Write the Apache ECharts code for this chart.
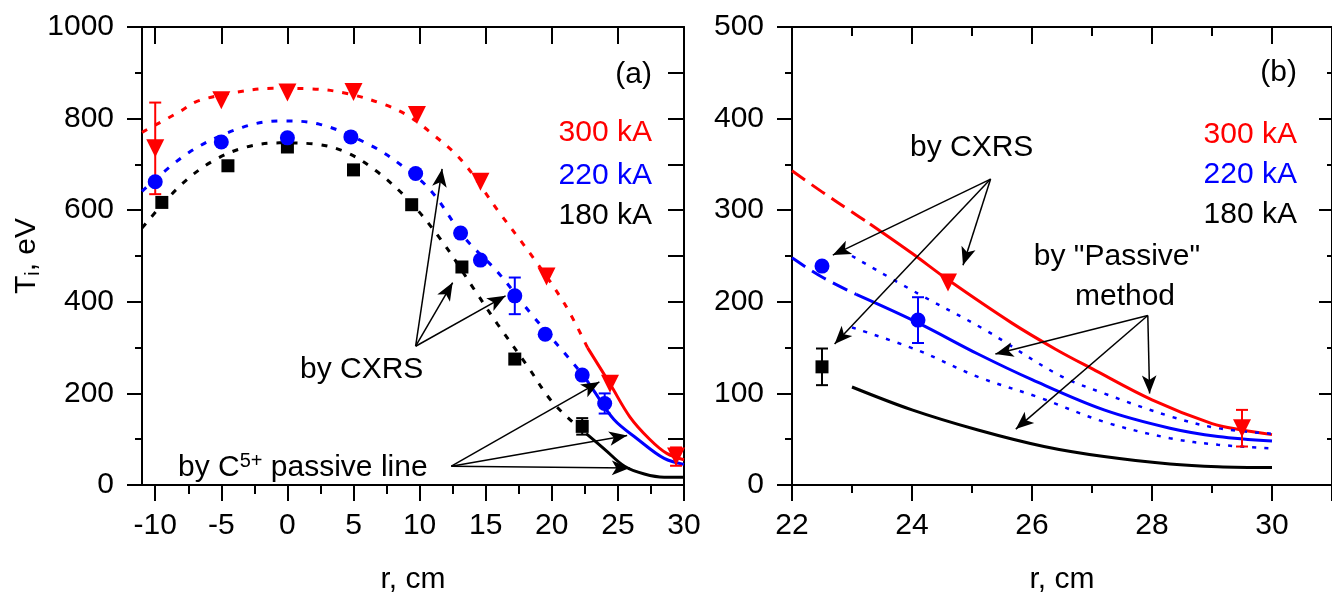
<!DOCTYPE html>
<html>
<head>
<meta charset="UTF-8">
<title>Ion temperature profiles</title>
<script src="https://cdn.jsdelivr.net/npm/echarts@6/dist/echarts.min.js"></script>
<style>html,body{margin:0;padding:0;background:#fff}#main{width:1332px;height:600px}</style>
</head>
<body>
<div id="main"></div>
<script>
// ---- panel (a): measured points [r, Ti] ----
const red300A = [[-10,735],[-5,840],[0,857],[5,858],[9.8,808],[14.6,662],[19.6,455],[24.4,221],[29.4,62]];
const blue220A = [[-10,662],[-5,749],[0,758],[4.8,760],[9.7,680],[13.1,550],[14.6,491],[17.2,413],[19.5,329],[22.3,240],[24,178]];
const black180A = [[-9.5,617],[-4.5,697],[0,738],[5,688],[9.4,612],[13.2,476],[17.2,275],[22.3,128]];
// error bars [r, Ti, half-width]
const red300AErr = [[-10,735,100],[29.4,62,20]];
const blue220AErr = [[17.2,413,40],[24,178,22]];
const black180AErr = [[22.3,128,18]];
// fits (dotted) and C5+ passive line (solid)
const red300AFit = [[-11,770],[-8.1,816],[-6.8,838],[-4,857],[-1.1,866],[1.8,865],[4.5,855],[7.4,830],[9.2,805],[10.9,768],[13.2,708],[15.9,600],[18.6,496],[21,394],[22.7,300]];
const red300APas = [[22.7,300],[24.4,221],[25.9,149],[27.4,100],[28.7,69],[30,55]];
const blue220AFit = [[-11,641],[-7.4,727],[-3.4,781],[-0.5,795],[2.4,788],[6.4,740],[9,690],[10.9,641],[13.4,540],[15.9,465],[18.4,375],[21.2,280],[22.5,235]];
const blue220APas = [[22.5,235],[23.2,205],[24.7,143],[26.5,100],[28.5,58],[30,45]];
const black180AFit = [[-11,561],[-8.1,654],[-5.6,708],[-3.1,738],[-0.6,747],[1.9,745],[4.4,727],[6.7,686],[9.2,621],[11.7,532],[14.2,424],[15.9,351],[18.2,258],[19.9,186],[21.7,134],[22.6,112]];
const black180APas = [[22.6,112],[24,78],[25.5,41],[27,24],[28.5,17],[30,17]];
// arrows [fromR, fromT, toR, toT]
const arrowsA = [[9.7,303,11.7,690],[9.7,303,12.5,442],[9.7,303,16.5,413],
                 [12.4,41,23.6,225],[12.4,41,25.7,108],[12.4,41,25.9,37]];

// ---- panel (b) ----
const red300B = [[24.6,221],[29.5,62]];
const blue220B = [[22.5,239],[24.1,180]];
const black180B = [[22.5,129]];
const red300BErr = [[29.5,62,20]];
const blue220BErr = [[24.1,180,25]];
const black180BErr = [[22.5,129,20]];
const red300BExt = [[22,343],[22.5,320],[23,298],[23.3,285]];
const red300BPas = [[23.3,285],[24,253],[24.6,224],[25.66,177],[26.4,148],[27,127],[28,93],[29,67],[29.5,60],[30,55]];
const blue220BExt = [[22,248],[22.5,227],[23.07,208]];
const blue220BPas = [[23.07,208],[24.1,177],[25.1,143],[26,115],[27.2,82],[28.3,62],[29.1,53],[30,48]];
const blue220BUp = [[23,250],[24.1,209],[25.2,170],[26.45,120],[27.2,100],[28.3,75],[29.1,62],[30,56]];
const blue220BLow = [[23,172],[24.1,147],[25.1,118],[26.1,96],[27.2,69],[28.3,51],[29.1,44],[30,40]];
const black180BPas = [[23,107],[24,82],[25.1,60],[26.2,42],[27.2,31],[28.3,23],[29.1,20],[30,19]];
const arrowsB = [[25.31,334,22.68,251],[25.31,334,24.85,240],[25.31,334,22.71,154],
                 [27.93,185,25.39,143],[27.93,185,27.96,100],[27.93,185,25.73,61]];

const ticksAMajor = [-10,-5,0,5,10,15,20,25,30];
const ticksAMinor = [-7.5,-2.5,2.5,7.5,12.5,17.5,22.5,27.5];
const ticksBLabels = [22,24,26,28,30];

const FONT = '"Liberation Sans", Arial, sans-serif';
const RED = '#ff0000', BLUE = '#0000ff', BLACK = '#000000';
const axisLine = {show: true, onZero: false, lineStyle: {color: '#000', width: 2}};
const tickStyle = {color: '#000', width: 2};
const labelStyle = {fontSize: 30, color: '#000', fontFamily: FONT, formatter: v => String(v)};

function xBottom(grid, extra) {
  return Object.assign({gridIndex: grid, type: 'value', position: 'bottom', axisLine: axisLine,
    splitLine: {show: false}, axisLabel: Object.assign({margin: 26}, labelStyle),
    name: 'r, cm', nameLocation: 'middle', nameGap: 80,
    nameTextStyle: {fontSize: 30, color: '#000', fontFamily: FONT}}, extra);
}

const chart = echarts.init(document.getElementById('main'), null, {renderer: 'canvas'});

function line(data, color, xi, yi, type, width) {
  return {type: 'line', data: data, xAxisIndex: xi, yAxisIndex: yi, smooth: 0.35, showSymbol: false,
    silent: true, z: 3, lineStyle: {color: color, width: width || 3, type: type || 'solid'}};
}
function pts(data, color, symbol, size, xi, yi, rot) {
  return {type: 'scatter', data: data, xAxisIndex: xi, yAxisIndex: yi, symbol: symbol, symbolSize: size,
    symbolRotate: rot || 0, itemStyle: {color: color, opacity: 1}, z: 6, silent: true};
}
function errs(data, color, xi, yi) {
  return {type: 'custom', data: data, xAxisIndex: xi, yAxisIndex: yi, z: 5, silent: true,
    renderItem: function (params, api) {
      const x = api.value(0), y = api.value(1), e = api.value(2);
      const t = api.coord([x, y + e]), b = api.coord([x, y - e]);
      const w = 6, st = {stroke: color, lineWidth: 2};
      return {type: 'group', children: [
        {type: 'line', shape: {x1: t[0], y1: t[1], x2: b[0], y2: b[1]}, style: st},
        {type: 'line', shape: {x1: t[0] - w, y1: t[1], x2: t[0] + w, y2: t[1]}, style: st},
        {type: 'line', shape: {x1: b[0] - w, y1: b[1], x2: b[0] + w, y2: b[1]}, style: st}
      ]};
    }};
}
function arrows(list, xi, yi) {
  return {type: 'line', data: [], xAxisIndex: xi, yAxisIndex: yi, silent: true,
    markLine: {silent: true, animation: false, symbol: ['none', 'arrow'], symbolSize: [11, 18],
      label: {show: false}, lineStyle: {color: '#000', width: 1.5, type: 'solid'},
      emphasis: {disabled: true},
      data: list.map(a => [{coord: [a[0], a[1]]}, {coord: [a[2], a[3]]}])}};
}
function txt(text, x, y, color, align, rich) {
  return {type: 'text', x: x, y: y, silent: true, z: 10,
    style: {text: text, fill: color || '#000', font: '30px ' + FONT, align: align || 'left',
      verticalAlign: 'middle', rich: rich}};
}

const option = {
  animation: false,
  backgroundColor: '#fff',
  grid: [
    {left: 142, top: 27, width: 542, height: 462},
    {left: 792, top: 27, width: 543, height: 462}
  ],
  xAxis: [
    xBottom(0, {min: -11, max: 30,
      axisTick: {customValues: ticksAMajor, length: 16, lineStyle: tickStyle},
      axisLabel: Object.assign({margin: 26, customValues: ticksAMajor}, labelStyle)}),
    {gridIndex: 0, type: 'value', min: -11, max: 30, position: 'bottom', axisLine: {show: false},
      splitLine: {show: false}, axisLabel: {show: false},
      axisTick: {customValues: ticksAMinor, length: 8, lineStyle: tickStyle}},
    {gridIndex: 0, type: 'value', min: -11, max: 30, position: 'top', axisLine: axisLine,
      splitLine: {show: false}, axisLabel: {show: false},
      axisTick: {inside: true, customValues: ticksAMajor, length: 17, lineStyle: tickStyle}},
    {gridIndex: 0, type: 'value', min: -11, max: 30, position: 'top', axisLine: {show: false},
      splitLine: {show: false}, axisLabel: {show: false},
      axisTick: {inside: true, customValues: ticksAMinor, length: 9, lineStyle: tickStyle}},
    xBottom(1, {min: 22, max: 31, interval: 2,
      axisTick: {length: 16, lineStyle: tickStyle},
      axisLabel: Object.assign({margin: 26, customValues: ticksBLabels}, labelStyle),
      minorTick: {show: true, splitNumber: 2, length: 8, lineStyle: tickStyle}}),
    {gridIndex: 1, type: 'value', min: 22, max: 31, interval: 2, position: 'top', axisLine: axisLine,
      splitLine: {show: false}, axisLabel: {show: false},
      axisTick: {inside: true, length: 17, lineStyle: tickStyle},
      minorTick: {show: true, splitNumber: 2, length: 9, lineStyle: tickStyle}}
  ],
  yAxis: [
    {gridIndex: 0, type: 'value', min: 0, max: 1000, interval: 200, position: 'left', axisLine: axisLine,
      splitLine: {show: false}, axisLabel: Object.assign({margin: 28}, labelStyle),
      axisTick: {length: 15, lineStyle: tickStyle},
      minorTick: {show: true, splitNumber: 2, length: 7, lineStyle: tickStyle},
      name: '{n|T}{s|i}{n|, eV}', nameLocation: 'middle', nameGap: 90, nameRotate: 90,
      nameTextStyle: {fontFamily: FONT, color: '#000', rich: {
        n: {fontSize: 30, fontFamily: FONT, color: '#000'},
        s: {fontSize: 20, fontFamily: FONT, color: '#000', padding: [14, 0, 0, 0]}}}},
    {gridIndex: 0, type: 'value', min: 0, max: 1000, interval: 100, position: 'right', axisLine: axisLine,
      splitLine: {show: false}, axisLabel: {show: false},
      axisTick: {inside: true, length: 16, lineStyle: tickStyle}},
    {gridIndex: 1, type: 'value', min: 0, max: 500, interval: 100, position: 'left', axisLine: axisLine,
      splitLine: {show: false}, axisLabel: Object.assign({margin: 28}, labelStyle),
      axisTick: {length: 15, lineStyle: tickStyle},
      minorTick: {show: true, splitNumber: 2, length: 7, lineStyle: tickStyle}},
    {gridIndex: 1, type: 'value', min: 0, max: 500, interval: 100, position: 'right', axisLine: axisLine,
      splitLine: {show: false}, axisLabel: {show: false},
      axisTick: {inside: true, length: 13, lineStyle: tickStyle},
      minorTick: {show: true, splitNumber: 2, length: 5, lineStyle: tickStyle}}
  ],
  series: [
    // panel (a)
    line(red300AFit, RED, 0, 0, [6, 9]),
    line(blue220AFit, BLUE, 0, 0, [6, 9]),
    line(black180AFit, BLACK, 0, 0, [6, 9]),
    line(red300APas, RED, 0, 0),
    line(blue220APas, BLUE, 0, 0),
    line(black180APas, BLACK, 0, 0),
    errs(red300AErr, RED, 0, 0),
    errs(blue220AErr, BLUE, 0, 0),
    errs(black180AErr, BLACK, 0, 0),
    pts(black180A, BLACK, 'rect', 13, 0, 0),
    pts(blue220A, BLUE, 'circle', 15, 0, 0),
    pts(red300A, RED, 'triangle', 18, 0, 0, 180),
    arrows(arrowsA, 0, 0),
    // panel (b)
    line(red300BExt, RED, 4, 2, [16, 8]),
    line(red300BPas, RED, 4, 2),
    line(blue220BExt, BLUE, 4, 2, [16, 8]),
    line(blue220BPas, BLUE, 4, 2),
    line(blue220BUp, BLUE, 4, 2, [4, 8], 2.5),
    line(blue220BLow, BLUE, 4, 2, [4, 8], 2.5),
    line(black180BPas, BLACK, 4, 2),
    errs(red300BErr, RED, 4, 2),
    errs(blue220BErr, BLUE, 4, 2),
    errs(black180BErr, BLACK, 4, 2),
    pts(black180B, BLACK, 'rect', 13, 4, 2),
    pts(blue220B, BLUE, 'circle', 15, 4, 2),
    pts(red300B, RED, 'triangle', 18, 4, 2, 180),
    arrows(arrowsB, 4, 2)
  ],
  graphic: [
    txt('(a)', 652, 75, '#000', 'right'),
    txt('300 kA', 652, 133, RED, 'right'),
    txt('220 kA', 652, 176, BLUE, 'right'),
    txt('180 kA', 652, 216, '#000', 'right'),
    txt('by CXRS', 300, 370),
    txt('{n|by C}{p|5+}{n| passive line}', 178, 468, '#000', 'left', {
      n: {fontSize: 30, fontFamily: FONT, color: '#000'},
      p: {fontSize: 20, fontFamily: FONT, color: '#000', padding: [0, 0, 14, 0]}}),
    txt('(b)', 1297, 73, '#000', 'right'),
    txt('300 kA', 1297, 135, RED, 'right'),
    txt('220 kA', 1297, 175, BLUE, 'right'),
    txt('180 kA', 1297, 215, '#000', 'right'),
    txt('by CXRS', 910, 148),
    txt('by "Passive"', 1117, 257, '#000', 'center'),
    txt('method', 1125, 297, '#000', 'center')
  ]
};
chart.setOption(option);
</script>
</body>
</html>
